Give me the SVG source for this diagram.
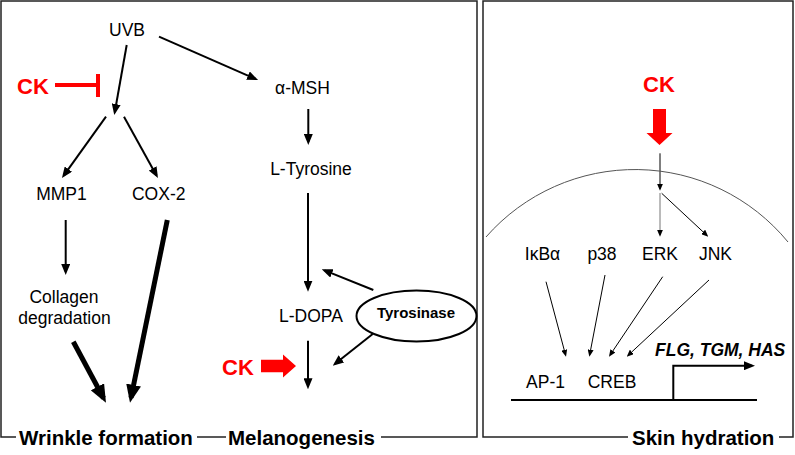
<svg xmlns="http://www.w3.org/2000/svg" width="795" height="455" viewBox="0 0 795 455">
<style>
text{font-family:"Liberation Sans",Arial,sans-serif;fill:#000}
.lb{font-size:17.5px;text-anchor:middle}
.ttl{font-size:20.5px;font-weight:bold}
.ck{font-size:22px;font-weight:bold;fill:#ff0000}
.frame{fill:none;stroke:#222;stroke-width:1.5}
.a2{stroke:#000;stroke-width:2;fill:none;marker-end:url(#m2)}
.a5{stroke:#000;stroke-width:5;fill:none;marker-end:url(#m5)}
.a1{stroke:#000;stroke-width:1;fill:none;marker-end:url(#m1)}
</style>
<defs>
<marker id="m2" markerUnits="userSpaceOnUse" markerWidth="11" markerHeight="9" refX="8" refY="4.5" orient="auto"><path d="M0,0 L11,4.5 L0,9 z" fill="#000"/></marker>
<marker id="m5" markerUnits="userSpaceOnUse" markerWidth="18" markerHeight="15" refX="13" refY="7.5" orient="auto"><path d="M0,0 L18,7.5 L0,15 z" fill="#000"/></marker>
<marker id="m1" markerUnits="userSpaceOnUse" markerWidth="7" markerHeight="6" refX="5" refY="3" orient="auto"><path d="M0,0 L7,3 L0,6 z" fill="#000"/></marker>
</defs>

<g id="frames">
<path class="frame" d="M16,437 H1 V1 H477 V437 H381"/>
<path class="frame" d="M197,437 H226"/>
<path class="frame" d="M628,437 H483 V1 H793 V437 H779"/>
<text class="ttl" x="19" y="445">Wrinkle formation</text>
<text class="ttl" x="228" y="445">Melanogenesis</text>
<text class="ttl" x="632" y="445">Skin hydration</text>
</g>

<g id="connectors">
<line class="a2" x1="126.7" y1="45" x2="114.8" y2="112"/>
<line class="a2" x1="159" y1="36.7" x2="255.3" y2="78.8"/>
<line class="a2" x1="106" y1="116.7" x2="63.7" y2="175.6"/>
<line class="a2" x1="124" y1="116.7" x2="156.5" y2="175.4"/>
<line class="a2" x1="308.3" y1="109" x2="308.3" y2="142"/>
<line class="a2" x1="308" y1="193" x2="308" y2="288.7"/>
<line class="a2" x1="65.7" y1="220" x2="65.7" y2="272"/>
<line class="a2" x1="308" y1="340.7" x2="308" y2="386.3"/>
<line class="a2" x1="373.3" y1="290" x2="324.5" y2="270.4"/>
<line class="a2" x1="372.7" y1="334" x2="335.1" y2="363.8"/>
<line class="a5" x1="167.3" y1="220" x2="131" y2="397.8"/>
<line class="a5" x1="73.3" y1="341.7" x2="103.6" y2="398.3"/>
<line class="a1" x1="660" y1="153.3" x2="660" y2="188.7"/>
<line class="a1" x1="660" y1="193" x2="660" y2="234.7" style="stroke:#777"/>
<line class="a1" x1="661.7" y1="193.3" x2="706.8" y2="235.3"/>
<line class="a1" x1="546" y1="281.7" x2="565.5" y2="354.8"/>
<line class="a1" x1="605" y1="275" x2="589.7" y2="354.7"/>
<line class="a1" x1="662.7" y1="276.7" x2="610.1" y2="355"/>
<line class="a1" x1="709" y1="280" x2="628.2" y2="355.3"/>
<path class="a2" d="M673.3,400 V365.7 H752"/>
<line x1="511" y1="400" x2="757" y2="400" stroke="#000" stroke-width="2"/>
<path d="M486,237 A198,198 0 0 1 788,242" fill="none" stroke="#555" stroke-width="1"/>
</g>

<g id="ck-inhibit">
<text class="ck" x="17" y="94">CK</text>
<line x1="55" y1="85" x2="97" y2="85" stroke="#ff0000" stroke-width="4"/>
<rect x="96" y="74" width="4" height="23" fill="#ff0000"/>
</g>
<g id="ck-melano">
<text class="ck" x="222" y="375">CK</text>
<polygon points="261,359.7 283,359.7 283,354.5 296,366 283,377.5 283,372.3 261,372.3" fill="#ff0000"/>
</g>
<g id="ck-skin">
<text class="ck" x="643" y="92">CK</text>
<polygon points="653,109 666,109 666,133 672.5,133 659.5,145 646.5,133 653,133" fill="#ff0000"/>
</g>

<g id="uvb"><text class="lb" x="127" y="36">UVB</text></g>
<g id="amsh"><text class="lb" x="302.5" y="94">α-MSH</text></g>
<g id="ltyr"><text class="lb" x="311" y="175">L-Tyrosine</text></g>
<g id="mmp1"><text class="lb" x="61.5" y="200">MMP1</text></g>
<g id="cox2"><text class="lb" x="158.7" y="200">COX-2</text></g>
<g id="collagen"><text class="lb" x="64" y="303">Collagen</text><text class="lb" x="64.5" y="324">degradation</text></g>
<g id="ldopa"><text class="lb" x="311" y="322">L-DOPA</text></g>
<g id="tyrosinase">
<ellipse cx="416.5" cy="316" rx="60" ry="25.5" fill="#fff" stroke="#000" stroke-width="2"/>
<text x="416" y="318" style="font-size:15px;font-weight:bold;text-anchor:middle">Tyrosinase</text>
</g>
<g id="ikba"><text class="lb" x="542.5" y="260">IκBα</text></g>
<g id="p38"><text class="lb" x="602" y="260">p38</text></g>
<g id="erk"><text class="lb" x="660" y="260">ERK</text></g>
<g id="jnk"><text class="lb" x="715.5" y="260">JNK</text></g>
<g id="ap1"><text class="lb" x="545.5" y="388">AP-1</text></g>
<g id="creb"><text class="lb" x="612" y="388">CREB</text></g>
<g id="genes"><text x="655" y="356" style="font-size:17.5px;font-weight:bold;font-style:italic">FLG, TGM, HAS</text></g>
</svg>
